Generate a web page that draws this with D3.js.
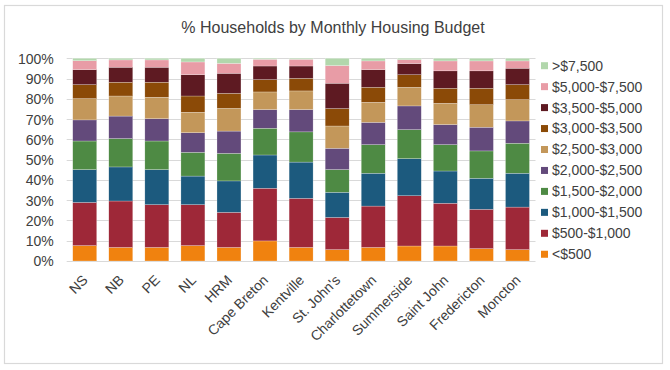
<!DOCTYPE html>
<html>
<head>
<meta charset="utf-8">
<script src="https://cdn.jsdelivr.net/npm/d3@7"></script>
<style>
  html, body { margin: 0; padding: 0; background: #fff; }
  svg { display: block; }
  text { font-family: "Liberation Sans", Arial, Helvetica, sans-serif; fill: #404040; }
</style>
</head>
<body>
<svg id="chart" width="670" height="370"></svg>
<script>
// ---- Data (percent of households) ----
const categories = ["NS", "NB", "PE", "NL", "HRM", "Cape Breton", "Kentville", "St. John's",
  "Charlottetown", "Summerside", "Saint John", "Fredericton", "Moncton"];

const seriesNames = ["<$500", "$500-$1,000", "$1,000-$1,500", "$1,500-$2,000", "$2,000-$2,500",
  "$2,500-$3,000", "$3,000-$3,500", "$3,500-$5,000", "$5,000-$7,500", ">$7,500"];

const under500   = [7.6, 6.7, 6.7, 7.6, 6.7, 9.9, 6.7, 5.6, 6.7, 7.4, 7.4, 6.1, 5.6];
const s500_1000  = [21.3, 22.9, 21.1, 20.2, 17.3, 26.0, 24.2, 15.9, 20.4, 24.8, 21.1, 19.4, 21.0];
const s1000_1500 = [16.2, 16.8, 17.3, 14.1, 15.5, 16.4, 17.9, 12.4, 16.2, 18.3, 15.9, 15.3, 16.7];
const s1500_2000 = [14.1, 14.0, 14.1, 11.7, 13.6, 13.2, 14.9, 11.2, 14.1, 14.3, 13.0, 13.5, 14.8];
const s2000_2500 = [10.4, 11.1, 11.0, 9.7, 11.0, 9.2, 11.0, 10.5, 11.0, 11.7, 9.9, 11.7, 11.0];
const s2500_3000 = [10.5, 9.9, 10.6, 10.1, 11.2, 8.7, 9.2, 11.0, 9.9, 9.2, 10.5, 11.1, 10.5];
const s3000_3500 = [6.9, 6.8, 7.4, 8.0, 7.4, 6.1, 6.2, 8.6, 7.4, 6.2, 7.4, 8.1, 7.4];
const s3500_5000 = [7.4, 7.4, 7.4, 10.5, 9.9, 6.7, 6.1, 12.5, 8.7, 5.5, 8.6, 8.6, 8.1];
const s5000_7500 = [4.4, 3.6, 3.6, 6.3, 4.9, 3.3, 3.3, 8.7, 4.3, 1.9, 4.9, 4.9, 3.6];
const over7500   = [1.2, 0.8, 0.8, 1.8, 2.5, 0.5, 0.5, 3.6, 1.3, 0.7, 1.3, 1.3, 1.3];

const yTickValues = [0, 0.1, 0.2, 0.3, 0.4, 0.5, 0.6, 0.7, 0.8, 0.9, 1.0];

const seriesValues = [under500, s500_1000, s1000_1500, s1500_2000, s2000_2500,
  s2500_3000, s3000_3500, s3500_5000, s5000_7500, over7500];

const colors = ["#F0820F", "#9E2838", "#1C5A7E", "#4E8A44", "#634A7B",
  "#C3975A", "#8B4A07", "#5E1A22", "#E89CA6", "#B2D7AC"];

// ---- Build table ----
const rows = categories.map((c, i) => {
  const r = { cat: c };
  seriesNames.forEach((s, j) => { r[s] = seriesValues[j][i]; });
  return r;
});

const stack = d3.stack().keys(seriesNames).offset(d3.stackOffsetExpand);
const stacked = stack(rows);

const svg = d3.select("#chart");

// frame
svg.append("rect")
  .attr("x", 4.5).attr("y", 5.5).attr("width", 658).attr("height", 358)
  .attr("fill", "none").attr("stroke", "#d9d9d9").attr("stroke-width", 1.2);

const plot = { left: 66.7, right: 535.5, top: 58.3, bottom: 261 };

const x = d3.scaleBand().domain(categories).range([plot.left, plot.right]).paddingInner(0.335).paddingOuter(0.1675);
const y = d3.scaleLinear().domain([0, 1]).range([plot.bottom, plot.top]);

// gridlines
svg.append("g").selectAll("line").data(yTickValues).join("line")
  .attr("x1", plot.left).attr("x2", plot.right)
  .attr("y1", d => Math.round(y(d)) + 0.5).attr("y2", d => Math.round(y(d)) + 0.5)
  .attr("stroke", "#d9d9d9").attr("stroke-width", 1);

// y axis labels
const yAxis = d3.axisLeft(y).tickValues(yTickValues).tickFormat(d3.format(".0%")).tickSize(0).tickPadding(0);
const yg = svg.append("g").attr("transform", `translate(${plot.left - 13},0)`).call(yAxis);
yg.select(".domain").remove();
yg.selectAll("text").attr("font-size", 14).attr("fill", "#404040")
  .style("font-family", '"Liberation Sans", Arial, sans-serif').attr("dy", "0.35em");

// bars
svg.append("g").selectAll("g").data(stacked).join("g")
  .attr("fill", (d, i) => colors[i])
  .selectAll("rect").data(d => d).join("rect")
  .attr("x", d => x(d.data.cat))
  .attr("width", x.bandwidth())
  .attr("y", d => y(d[1]))
  .attr("height", d => y(d[0]) - y(d[1]))
  .attr("stroke", "#ffffff").attr("stroke-width", 0.4).attr("stroke-opacity", 0.6);

// x axis labels
const xAxis = d3.axisBottom(x).tickSize(0).tickPadding(0);
const xg = svg.append("g").attr("transform", `translate(0,${plot.bottom})`).call(xAxis);
xg.select(".domain").remove();
xg.selectAll("text")
  .attr("font-size", 14).attr("fill", "#404040")
  .style("font-family", '"Liberation Sans", Arial, sans-serif')
  .attr("text-anchor", "end")
  .attr("dy", null).attr("y", null)
  .attr("transform", "translate(4,20) rotate(-45)");

// title
svg.append("text").attr("x", 333).attr("y", 33).attr("text-anchor", "middle")
  .attr("font-size", 16).attr("fill", "#404040")
  .text("% Households  by Monthly Housing Budget");

// legend (top = >$7,500)
const legendItems = seriesNames.map((s, i) => ({ name: s, color: colors[i] })).reverse();
const lg = svg.append("g").selectAll("g").data(legendItems).join("g")
  .attr("transform", (d, i) => `translate(541,${65.7 + i * 20.95})`);
lg.append("rect").attr("x", 0).attr("y", -3.5).attr("width", 7).attr("height", 7).attr("fill", d => d.color);
lg.append("text").attr("x", 11).attr("y", 0).attr("dy", "0.35em")
  .attr("font-size", 14).attr("fill", "#404040").text(d => d.name);
</script>
</body>
</html>
